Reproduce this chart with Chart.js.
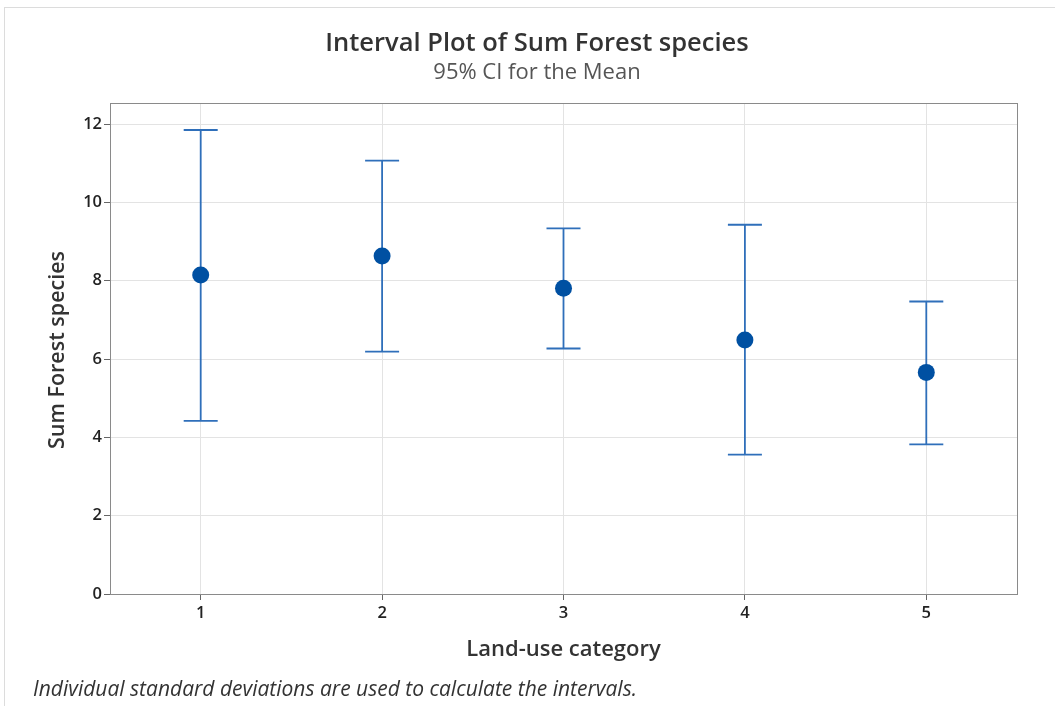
<!DOCTYPE html>
<html>
<head>
<meta charset="utf-8">
<script src="https://cdn.jsdelivr.net/npm/chart.js@4/dist/chart.umd.min.js"></script>
<style>
  html, body { margin: 0; padding: 0; background: #fff; }
  #wrap { position: relative; width: 1055px; height: 706px; }
  #frame { position: absolute; left: 4px; top: 7px; right: -2px; bottom: -2px;
           border-left: 1px solid #dcdcdc; border-top: 1px solid #dcdcdc; pointer-events: none; }
  canvas { display: block; }
</style>
</head>
<body>
<div id="wrap">
  <canvas id="chart" width="1055" height="706"></canvas>
  <div id="frame"></div>
</div>
<script>
// Land-use categories and the 95% confidence intervals for the mean
const categories = ['1', '2', '3', '4', '5'];
const means      = [8.15, 8.63, 7.81, 6.49, 5.66];
const lowerCI    = [4.42, 6.19, 6.27, 3.56, 3.82];
const upperCI    = [11.85, 11.07, 9.34, 9.43, 7.47];
const yTicks     = [0, 2, 4, 6, 8, 10, 12];

const titleText    = 'Interval Plot of Sum Forest species';
const subtitleText = '95% CI for the Mean';
const xTitleText   = 'Land-use category';
const yTitleText   = 'Sum Forest species';
const noteText     = 'Individual standard deviations are used to calculate the intervals.';

const FONT = '"Open Sans", "Noto Sans", sans-serif';
const BAR_COLOR = '#2f6fba';
const MARK_COLOR = '#0050a2';

// Vertical interval bars with caps, drawn beneath the mean markers
const intervalBars = {
  id: 'intervalBars',
  beforeDatasetsDraw(chart) {
    const { ctx, scales: { x, y } } = chart;
    ctx.save();
    ctx.strokeStyle = BAR_COLOR;
    ctx.lineWidth = 1.8;
    const cap = 17;
    categories.forEach((c, i) => {
      const px = x.getPixelForValue(i);
      const top = y.getPixelForValue(upperCI[i]);
      const bot = y.getPixelForValue(lowerCI[i]);
      ctx.beginPath();
      ctx.moveTo(px, top); ctx.lineTo(px, bot);
      ctx.moveTo(px - cap, top); ctx.lineTo(px + cap, top);
      ctx.moveTo(px - cap, bot); ctx.lineTo(px + cap, bot);
      ctx.stroke();
    });
    ctx.restore();
  }
};

// Frame around the plot area plus the titles and footnote
const decorations = {
  id: 'decorations',
  afterDraw(chart) {
    const { ctx, chartArea: a } = chart;
    ctx.save();
    ctx.strokeStyle = '#8a8a8a';
    ctx.lineWidth = 1;
    ctx.strokeRect(Math.round(a.left) + 0.5, Math.round(a.top) + 0.5,
                   Math.round(a.right - a.left), Math.round(a.bottom - a.top));

    const cx = 537;
    ctx.textAlign = 'center';
    ctx.textBaseline = 'middle';
    ctx.fillStyle = '#333';
    ctx.font = '600 25.5px ' + FONT;
    ctx.fillText(titleText, cx, 44);
    ctx.fillStyle = '#555';
    ctx.font = '400 22px ' + FONT;
    ctx.fillText(subtitleText, cx, 73);

    ctx.fillStyle = '#333';
    ctx.font = '600 22px ' + FONT;
    ctx.fillText(xTitleText, (a.left + a.right) / 2, 650);

    ctx.save();
    ctx.translate(58, 350);
    ctx.rotate(-Math.PI / 2);
    ctx.font = '600 21.5px ' + FONT;
    ctx.fillText(yTitleText, 0, 0);
    ctx.restore();

    ctx.textAlign = 'left';
    ctx.fillStyle = '#333';
    ctx.font = 'italic 400 21px ' + FONT;
    ctx.fillText(noteText, 33, 690);
    ctx.restore();
  }
};

new Chart(document.getElementById('chart'), {
  type: 'line',
  data: {
    labels: categories,
    datasets: [{
      data: means,
      showLine: false,
      pointStyle: 'circle',
      pointRadius: 8.5,
      pointHoverRadius: 8.5,
      pointBackgroundColor: MARK_COLOR,
      pointBorderColor: MARK_COLOR,
      pointBorderWidth: 0
    }]
  },
  options: {
    responsive: false,
    animation: false,
    events: [],
    layout: { padding: { top: 103, right: 38, bottom: 0, left: 0 } },
    plugins: {
      legend: { display: false },
      tooltip: { enabled: false },
      title: { display: false }
    },
    scales: {
      x: {
        type: 'category',
        offset: true,
        grid: { color: '#e3e3e3', lineWidth: 1, tickColor: '#666', tickLength: 6, offset: false, drawOnChartArea: true },
        border: { display: false },
        ticks: { color: '#222', font: { family: FONT, size: 16.5, weight: '600' }, padding: 3 },
        afterFit(scale) { scale.height = 112; }
      },
      y: {
        min: 0,
        max: 12.54,
        grid: { color: '#e3e3e3', lineWidth: 1, tickColor: '#666', tickLength: 6 },
        border: { display: false },
        afterBuildTicks(scale) { scale.ticks = yTicks.map(v => ({ value: v })); },
        ticks: { color: '#222', font: { family: FONT, size: 16.5, weight: '600' }, padding: 2 },
        afterFit(scale) { scale.width = 110; }
      }
    }
  },
  plugins: [intervalBars, decorations]
});
</script>
</body>
</html>
